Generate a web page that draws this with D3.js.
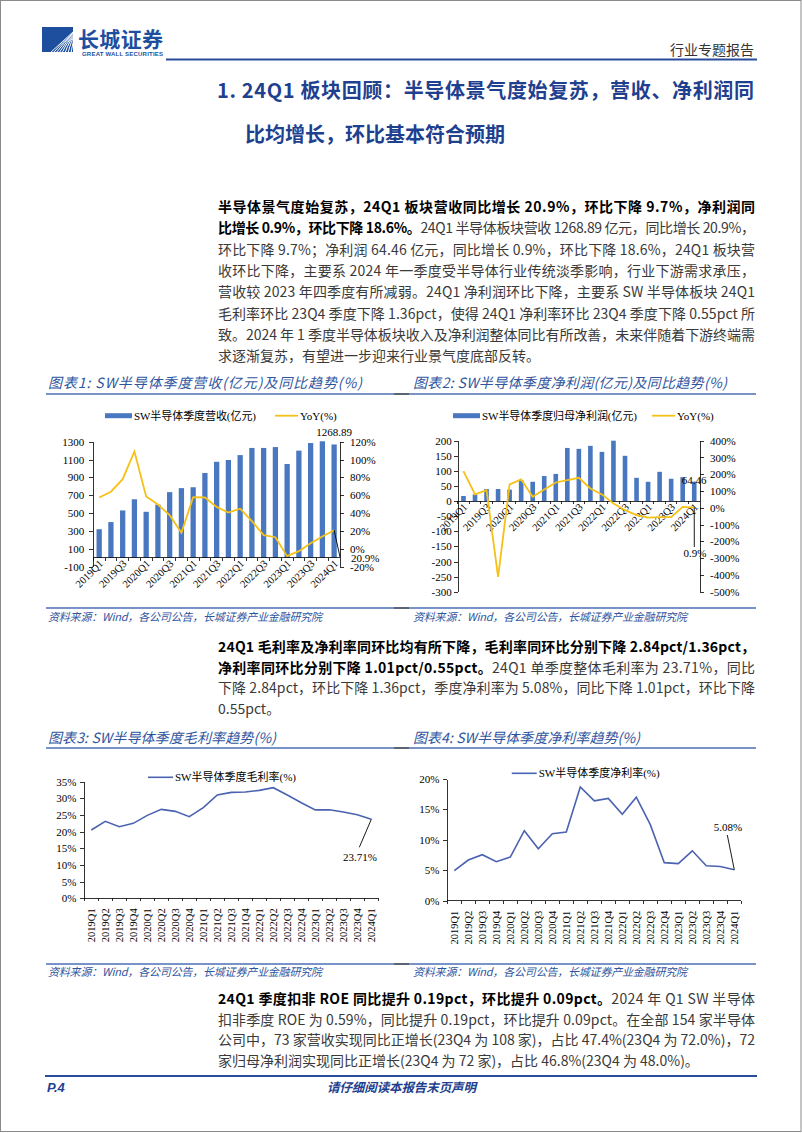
<!DOCTYPE html>
<html><head><meta charset="utf-8">
<script src="https://cdn.jsdelivr.net/npm/d3@7/dist/d3.min.js"></script>
<style>
body{margin:0;background:#fff}
svg{display:block}
.serif{font-family:"Liberation Serif","Times New Roman","Noto Sans CJK SC",serif;font-size:11px;fill:#000}
.cjk{font-family:"Noto Sans CJK SC","Liberation Sans",sans-serif}
.axis path,.axis line{stroke:#000;stroke-width:0.8;shape-rendering:crispEdges}
.axis text{font-family:"Liberation Serif","Times New Roman",serif;font-size:11px;fill:#000}
.axis text.xl{font-size:10.5px}
</style></head><body><div id="page"></div><script>
// ---- data ----
const quarters = ["2019Q1","2019Q2","2019Q3","2019Q4","2020Q1","2020Q2","2020Q3","2020Q4","2021Q1","2021Q2","2021Q3","2021Q4","2022Q1","2022Q2","2022Q3","2022Q4","2023Q1","2023Q2","2023Q3","2023Q4","2024Q1"];
const revenue = [320,400,530,655,515,595,735,780,790,950,1075,1095,1150,1230,1230,1240,1050,1200,1285,1305,1268.89];
const revenueYoy = [57.5,64,78,109,58.6,49.6,37.7,18,57.9,57.5,47,40.7,45,31,15.3,13,-8.2,-2.6,6.3,13.8,20.9];
const profit = [17,22,40,40,38,68,64,83,90,176,173,183,163,200,150,77,63.9,97,74,79.2,64.46];
const profitYoy = [219,80,105,-412,139,169,66,109,151,165,179,115,80,26,-14,-44,-58,-56,-56,6,0.9];
const grossMargin = [20.5,23.1,21.5,22.5,24.9,26.7,26.1,24.5,27.2,31.0,31.8,31.9,32.4,33.2,31.0,28.7,26.55,26.6,25.9,25.07,23.71];
const netMargin = [4.93,6.68,7.56,6.41,7.18,11.5,8.55,11.0,11.3,18.7,16.4,16.8,14.2,17.0,12.5,6.25,6.09,8.2,5.75,5.63,5.08];
const revTicks = [-100,100,300,500,700,900,1100,1300];
const revYoyTicks = [-20,0,20,40,60,80,100,120];
const profitTicks = [-300,-250,-200,-150,-100,-50,0,50,100,150,200];
const profitYoyTicks = [-500,-400,-300,-200,-100,0,100,200,300,400];
const gmTicks = [0,5,10,15,20,25,30,35];
const nmTicks = [0,5,10,15,20];

const BLUE = "#1f3f8f", BAR = "#4a78c0", YEL = "#f5c116", LINE = "#4a62b0", CAP = "#2f559e";
const svg = d3.select("#page").append("svg").attr("width", 802).attr("height", 1133);
svg.append("rect").attr("x", 0.5).attr("y", 0.5).attr("width", 800.5).attr("height", 1131).attr("fill", "#fff").attr("stroke", "#8a8a8a");

// ---- header ----
const logo = svg.append("g");
logo.append("clipPath").attr("id", "lc").append("rect").attr("x", 42).attr("y", 27).attr("width", 31).attr("height", 25);
logo.append("rect").attr("x", 42).attr("y", 27).attr("width", 31).attr("height", 25).attr("fill", "#1d4f9e");
const st = logo.append("g").attr("clip-path", "url(#lc)");
d3.range(8).forEach(i => st.append("path").attr("d", `M${50 + i * 3},53 Q${60 + i * 2},${44 - i} ${74},${31 + i * 1.2}`).attr("fill", "none").attr("stroke", "#fff").attr("stroke-width", 1));
svg.append("text").attr("class", "cjk").attr("x", 78).attr("y", 47).attr("font-size", 21).attr("font-weight", 700).attr("fill", "#1d4f9e").attr("textLength", 85).text("长城证券");
svg.append("text").attr("x", 82).attr("y", 56).attr("font-family", "Liberation Sans").attr("font-size", 6).attr("font-weight", 700).attr("fill", "#1d4f9e").attr("textLength", 81).text("GREAT WALL SECURITIES");
svg.append("line").attr("x1", 166).attr("x2", 757).attr("y1", 59.5).attr("y2", 59.5).attr("stroke", "#2a4d9b").attr("stroke-width", 2);
svg.append("text").attr("class", "cjk").attr("x", 754).attr("y", 55).attr("text-anchor", "end").attr("font-size", 14).attr("fill", "#333").text("行业专题报告");

svg.append("text").attr("class", "cjk").attr("x", 217).attr("y", 98).attr("font-size", 20).attr("font-weight", 700).attr("fill", BLUE).attr("textLength", 537).attr("lengthAdjust", "spacing").text("1. 24Q1 板块回顾：半导体景气度始复苏，营收、净利润同");
svg.append("text").attr("class", "cjk").attr("x", 245).attr("y", 142).attr("font-size", 20).attr("font-weight", 700).attr("fill", BLUE).text("比均增长，环比基本符合预期");

// ---- paragraphs ----
function para(lines, y0, step) {
  lines.forEach((ln, i) => {
    const t = svg.append("text").attr("class", "cjk").attr("x", 218).attr("y", y0 + i * step).attr("font-size", 14);
    if (ln.j !== false) t.attr("textLength", 537).attr("lengthAdjust", "spacing");
    ln.s.forEach(([txt, b]) => t.append("tspan").attr("font-weight", b ? 700 : 400).attr("fill", b ? "#000" : "#3a3a3a").text(txt));
  });
}
para([
  {s: [["半导体景气度始复苏，24Q1 板块营收同比增长 20.9%，环比下降 9.7%，净利润同", 1]]},
  {s: [["比增长 0.9%，环比下降 18.6%。", 1], ["24Q1 半导体板块营收 1268.89 亿元，同比增长 20.9%，", 0]]},
  {s: [["环比下降 9.7%；净利润 64.46 亿元，同比增长 0.9%，环比下降 18.6%，24Q1 板块营", 0]]},
  {s: [["收环比下降，主要系 2024 年一季度受半导体行业传统淡季影响，行业下游需求承压，", 0]]},
  {s: [["营收较 2023 年四季度有所减弱。24Q1 净利润环比下降，主要系 SW 半导体板块 24Q1", 0]]},
  {s: [["毛利率环比 23Q4 季度下降 1.36pct，使得 24Q1 净利率环比 23Q4 季度下降 0.55pct 所", 0]]},
  {s: [["致。2024 年 1 季度半导体板块收入及净利润整体同比有所改善，未来伴随着下游终端需", 0]]},
  {s: [["求逐渐复苏，有望进一步迎来行业景气度底部反转。", 0]], j: false}
], 212, 21.3);
para([
  {s: [["24Q1 毛利率及净利率同环比均有所下降，毛利率同环比分别下降 2.84pct/1.36pct，", 1]]},
  {s: [["净利率同环比分别下降 1.01pct/0.55pct。", 1], ["24Q1 单季度整体毛利率为 23.71%，同比", 0]]},
  {s: [["下降 2.84pct，环比下降 1.36pct，季度净利率为 5.08%，同比下降 1.01pct，环比下降", 0]]},
  {s: [["0.55pct。", 0]], j: false}
], 652, 20.7);
para([
  {s: [["24Q1 季度扣非 ROE 同比提升 0.19pct，环比提升 0.09pct。", 1], ["2024 年 Q1 SW 半导体", 0]]},
  {s: [["扣非季度 ROE 为 0.59%，同比提升 0.19pct，环比提升 0.09pct。在全部 154 家半导体", 0]]},
  {s: [["公司中，73 家营收实现同比正增长(23Q4 为 108 家)，占比 47.4%(23Q4 为 72.0%)，72", 0]]},
  {s: [["家归母净利润实现同比正增长(23Q4 为 72 家)，占比 46.8%(23Q4 为 48.0%)。", 0]], j: false}
], 1004, 20.5);

// ---- captions, rules, sources ----
function caption(x, y, txt, w) {
  svg.append("text").attr("class", "cjk").attr("x", x).attr("y", y).attr("font-size", 14).attr("font-style", "italic").attr("fill", CAP).attr("textLength", w).attr("lengthAdjust", "spacing").text(txt);
}
function source(x, y) {
  svg.append("text").attr("class", "cjk").attr("x", x).attr("y", y).attr("font-size", 11).attr("font-style", "italic").attr("fill", CAP).attr("textLength", 274).attr("lengthAdjust", "spacing").text("资料来源：Wind，各公司公告，长城证券产业金融研究院");
}
function rule(y) {
  svg.append("line").attr("x1", 46).attr("x2", 756).attr("y1", y).attr("y2", y).attr("stroke", "#4a6fb5").attr("stroke-width", 1.5);
  svg.append("line").attr("x1", 394).attr("x2", 409).attr("y1", y).attr("y2", y).attr("stroke", "#555").attr("stroke-width", 1.5);
}
caption(48, 388, "图表1: SW半导体季度营收(亿元)及同比趋势(%)", 314);
caption(413, 388, "图表2: SW半导体季度净利润(亿元)及同比趋势(%)", 314);
rule(394); rule(608);
source(48, 621); source(413, 621);
caption(48, 743, "图表3: SW半导体季度毛利率趋势(%)", 228);
caption(413, 743, "图表4: SW半导体季度净利率趋势(%)", 227);
rule(748); rule(964);
source(48, 976); source(413, 976);

// footer
svg.append("line").attr("x1", 45).attr("x2", 757).attr("y1", 1076).attr("y2", 1076).attr("stroke", "#2a4d9b").attr("stroke-width", 2);
svg.append("text").attr("x", 47).attr("y", 1092).attr("font-family", "Liberation Sans").attr("font-size", 13).attr("font-weight", 700).attr("font-style", "italic").attr("fill", BLUE).text("P.4");
svg.append("text").attr("class", "cjk").attr("x", 327).attr("y", 1092).attr("font-size", 12.5).attr("font-weight", 700).attr("font-style", "italic").attr("fill", BLUE).attr("textLength", 149).text("请仔细阅读本报告末页声明");

// ---- bar + line charts ----
function barLine(c) {
  const g = svg.append("g");
  const x = d3.scaleBand().domain(quarters).range([c.l, c.r]).paddingInner(c.pad).paddingOuter(c.pad / 2);
  const xc = d => x(d) + x.bandwidth() / 2;
  const yl = d3.scaleLinear().domain(c.ld).range([c.b, c.t]);
  const yr = d3.scaleLinear().domain(c.rd).range([c.b, c.t]);
  g.selectAll("rect.bar").data(c.bars).join("rect").attr("class", "bar")
    .attr("x", (d, i) => x(quarters[i])).attr("width", x.bandwidth())
    .attr("y", d => yl(Math.max(0, d))).attr("height", d => Math.abs(yl(d) - yl(0))).attr("fill", BAR);
  const y0 = yl(0);
  const xa = g.append("g").attr("class", "axis");
  xa.append("line").attr("x1", c.l).attr("x2", c.r).attr("y1", y0).attr("y2", y0);
  quarters.forEach((q, i) => xa.append("line").attr("x1", x(q) - x.step() * x.paddingInner() / 2).attr("x2", x(q) - x.step() * x.paddingInner() / 2).attr("y1", y0).attr("y2", y0 + 3));
  quarters.filter((q, i) => i % 2 === 0).forEach(q => xa.append("text").attr("class", "xl").attr("transform", `translate(${xc(q) + 2},${y0 + 4}) rotate(-45)`).attr("text-anchor", "end").attr("dy", "0.35em").text(q));
  g.append("g").attr("class", "axis").attr("transform", `translate(${c.l},0)`).call(d3.axisLeft(yl).tickValues(c.lt).tickSize(4).tickPadding(c.lp).tickSizeOuter(0).tickFormat(d => String(d)));
  g.append("g").attr("class", "axis").attr("transform", `translate(${c.r},0)`).call(d3.axisRight(yr).tickValues(c.rt).tickSize(4).tickPadding(6).tickSizeOuter(0).tickFormat(d => d + "%"));
  const line = d3.line().x((d, i) => xc(quarters[i])).y(d => yr(d));
  g.append("path").datum(c.line).attr("d", line).attr("fill", "none").attr("stroke", YEL).attr("stroke-width", 1.8);
  // legend
  g.append("rect").attr("x", c.lg[0]).attr("y", c.lg[2] - 2.5).attr("width", 27).attr("height", 5).attr("fill", BAR);
  g.append("text").attr("class", "serif").attr("x", c.lg[0] + 29).attr("y", c.lg[2] + 4).attr("textLength", c.lw).text(c.name);
  g.append("line").attr("x1", c.lg[1]).attr("x2", c.lg[1] + 23).attr("y1", c.lg[2]).attr("y2", c.lg[2]).attr("stroke", YEL).attr("stroke-width", 1.8);
  g.append("text").attr("class", "serif").attr("x", c.lg[1] + 25).attr("y", c.lg[2] + 4).text("YoY(%)");
  // annotations on the last quarter
  const last = quarters[quarters.length - 1], n = c.bars.length - 1;
  g.append("text").attr("class", "serif").attr("x", xc(last)).attr("y", yl(c.bars[n]) + c.bdy).attr("text-anchor", "middle").text(c.bars[n]);
  g.append("line").attr("x1", xc(last)).attr("y1", yr(c.line[n])).attr("x2", c.lead[0]).attr("y2", c.lead[1]).attr("stroke", "#000").attr("stroke-width", 0.9);
  g.append("text").attr("class", "serif").attr("x", c.lead[2]).attr("y", c.lead[3]).attr("text-anchor", c.lead[4]).attr("font-size", c.lead[5]).text(c.line[n] + "%");
}
barLine({l: 93.3, r: 340, t: 441.7, b: 566.7, pad: 0.55, bars: revenue, line: revenueYoy, ld: [-100, 1300], rd: [-20, 120], lt: revTicks, rt: revYoyTicks, lp: 5,
  lg: [105, 275, 415.7], name: "SW半导体季度营收(亿元)", lw: 122, bdy: -8, lead: [340, 557, 351, 561.5, "start", 10]});
barLine({l: 457.7, r: 700, t: 440.7, b: 591.7, pad: 0.6, bars: profit, line: profitYoy, ld: [-300, 200], rd: [-500, 400], lt: profitTicks, rt: profitYoyTicks, lp: 2,
  lg: [453, 652, 415.7], name: "SW半导体季度归母净利润(亿元)", lw: 155, bdy: 2, lead: [694.3, 547, 695, 557, "middle", 11]});

// ---- margin line charts ----
function marginChart(c) {
  const g = svg.append("g");
  const x = d3.scaleBand().domain(quarters).range([c.l, c.r]);
  const xc = d => x(d) + x.bandwidth() / 2;
  const y = d3.scaleLinear().domain(c.d).range([c.b, c.t]);
  g.append("g").attr("class", "axis").attr("transform", `translate(${c.l},0)`).call(d3.axisLeft(y).tickValues(c.ticks).tickSize(4).tickPadding(4).tickSizeOuter(0).tickFormat(d => d + "%"));
  const xa = g.append("g").attr("class", "axis");
  xa.append("line").attr("x1", c.l).attr("x2", c.r).attr("y1", c.b).attr("y2", c.b);
  quarters.concat([null]).forEach((q, i) => { const px = c.l + i * x.step(); xa.append("line").attr("x1", px).attr("x2", px).attr("y1", c.b).attr("y2", c.b + 3); });
  quarters.forEach(q => xa.append("text").attr("class", "xl").attr("transform", `translate(${xc(q)},${c.b + 10}) rotate(-90)`).attr("text-anchor", "end").attr("dy", "0.35em").text(q));
  g.append("path").datum(c.vals).attr("d", d3.line().x((d, i) => xc(quarters[i])).y(d => y(d))).attr("fill", "none").attr("stroke", LINE).attr("stroke-width", 1.6);
  g.append("line").attr("x1", c.lg[0]).attr("x2", c.lg[0] + 25).attr("y1", c.lg[1]).attr("y2", c.lg[1]).attr("stroke", LINE).attr("stroke-width", 1.6);
  g.append("text").attr("class", "serif").attr("x", c.lg[0] + 27).attr("y", c.lg[1] + 4).text(c.name);
  const n = c.vals.length - 1, last = quarters[n];
  g.append("line").attr("x1", xc(last)).attr("y1", y(c.vals[n])).attr("x2", c.lead[0]).attr("y2", c.lead[1]).attr("stroke", "#000").attr("stroke-width", 0.9);
  g.append("text").attr("class", "serif").attr("x", c.lead[2]).attr("y", c.lead[3]).attr("text-anchor", "middle").text(c.vals[n].toFixed(2) + "%");
}
marginChart({l: 84.3, r: 378.3, t: 781.7, b: 898.3, d: [0, 35], ticks: gmTicks, vals: grossMargin, lg: [148, 777.3], name: "SW半导体季度毛利率(%)", lead: [359.3, 847.3, 360, 861]});
marginChart({l: 447.3, r: 741.3, t: 779, b: 900.7, d: [0, 20], ticks: nmTicks, vals: netMargin, lg: [511.7, 773.3], name: "SW半导体季度净利率(%)", lead: [727.3, 835, 728, 831]});
</script></body></html>
